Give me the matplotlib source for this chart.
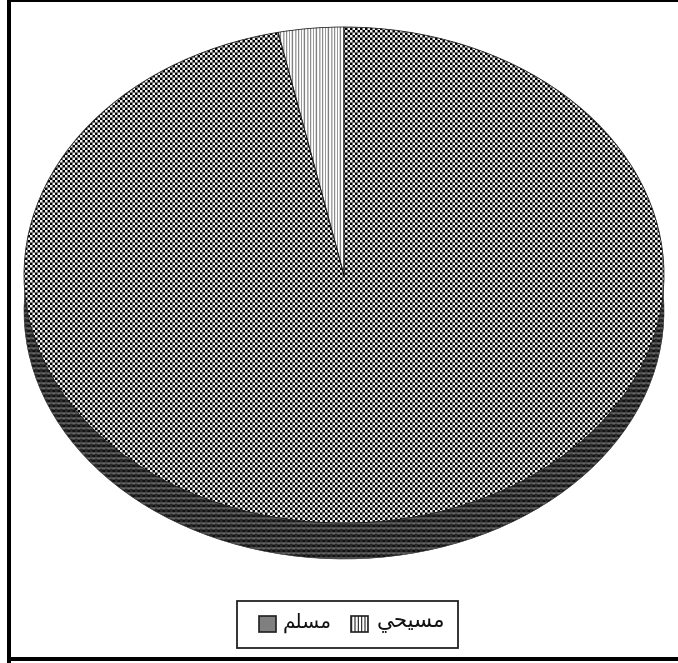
import numpy as np
import matplotlib
matplotlib.use('Agg')
import matplotlib.pyplot as plt
from matplotlib.patches import Rectangle

plt.rcParams['font.family'] = ['DejaVu Sans']
plt.rcParams['hatch.linewidth'] = 0.8

W, H = 678, 663

# data
shares = [3.3, 96.7]
# presentation forms in visual order, matplotlib does not shape arabic
label_christian = '\ufef2\ufea4\ufef4\ufeb4\ufee3'  # مسيحي
label_muslim = '\ufee2\ufee0\ufeb4\ufee3'  # مسلم

# ellipse of the top face, in pixels
cx, cy, rx, ry = 344, 275, 320, 248
depth = 36


# textures, one value per output pixel
def checker(mid, amp):
    # cells of 2.5 px, so the middle pixel of each period comes out grey
    a = np.array([1, 1, 0, -1, -1])
    tile = mid + amp * a[:, None] * a[None, :]
    return np.tile(tile, (H // 5 + 1, W // 5 + 1))[:H, :W]


def side_bands():
    a = np.array([.12, .12, .3, .36, .2])
    t = np.tile(a[:, None], (H // 5 + 1, W))[:H, :W]
    return t + 0.5 * (checker(.1, .1) - .1)


def stripes():
    a = np.array([1, .6, 1, .85, .5, .95, 1, .65, .8, 1, .55, .9])
    return np.tile(a, (H, W // 12 + 1))[:H, :W]


fig = plt.figure(figsize=(W / 100, H / 100), dpi=100)
ax = fig.add_axes([0, 0, 1, 1])

ext = (-cx / rx, (W - cx) / rx, -(H - cy) / ry, cy / ry)


def textured_pie(center, textures, zorder, lw):
    wedges, _ = ax.pie(shares, startangle=90, center=center, radius=1,
                       wedgeprops={'facecolor': 'none', 'edgecolor': '#222222',
                                   'linewidth': lw, 'zorder': zorder + 1})
    for w, tex in zip(wedges, textures):
        im = ax.imshow(tex, cmap='gray', vmin=0, vmax=1, extent=ext, aspect='auto',
                       interpolation='nearest', zorder=zorder)
        im.set_clip_path(w)
    return wedges


# side first, top face over it
textured_pie((0, -depth / ry), [side_bands(), side_bands()], 1, 0.4)
textured_pie((0, 0), [stripes(), checker(0.47, 0.47)], 3, 0.6)

ax.set_xlim(ext[0], ext[1])
ax.set_ylim(ext[2], ext[3])
ax.set_aspect('auto')
ax.axis('off')


def box(x0, y0, x1, y1, **kw):
    # pixel box, y from the top
    r = Rectangle((x0 / W, 1 - y1 / H), (x1 - x0) / W, (y1 - y0) / H,
                  transform=fig.transFigure, **kw)
    fig.add_artist(r)


# outer frame (left, top and bottom only)
box(7, 0, 11, H, color='black', lw=0)
box(7, 0, W, 2, color='black', lw=0)
box(7, 657, W, 661, color='black', lw=0)

# legend
box(236.5, 601, 458, 648, facecolor='white', edgecolor='#222222', linewidth=1.3)
box(259, 616, 276, 632, facecolor='#808080', edgecolor='#222222', linewidth=1.2)
box(351, 616, 368, 632, facecolor='white', edgecolor='#222222', linewidth=1.2, hatch='|||||')
fig.text(307.5 / W, 1 - 623 / H, label_muslim, fontsize=14.5, ha='center', va='center', color='#111111')
fig.text(411 / W, 1 - 623 / H, label_christian, fontsize=15.5, ha='center', va='center', color='#111111')

fig.savefig('out.png', dpi=100, facecolor='white')
